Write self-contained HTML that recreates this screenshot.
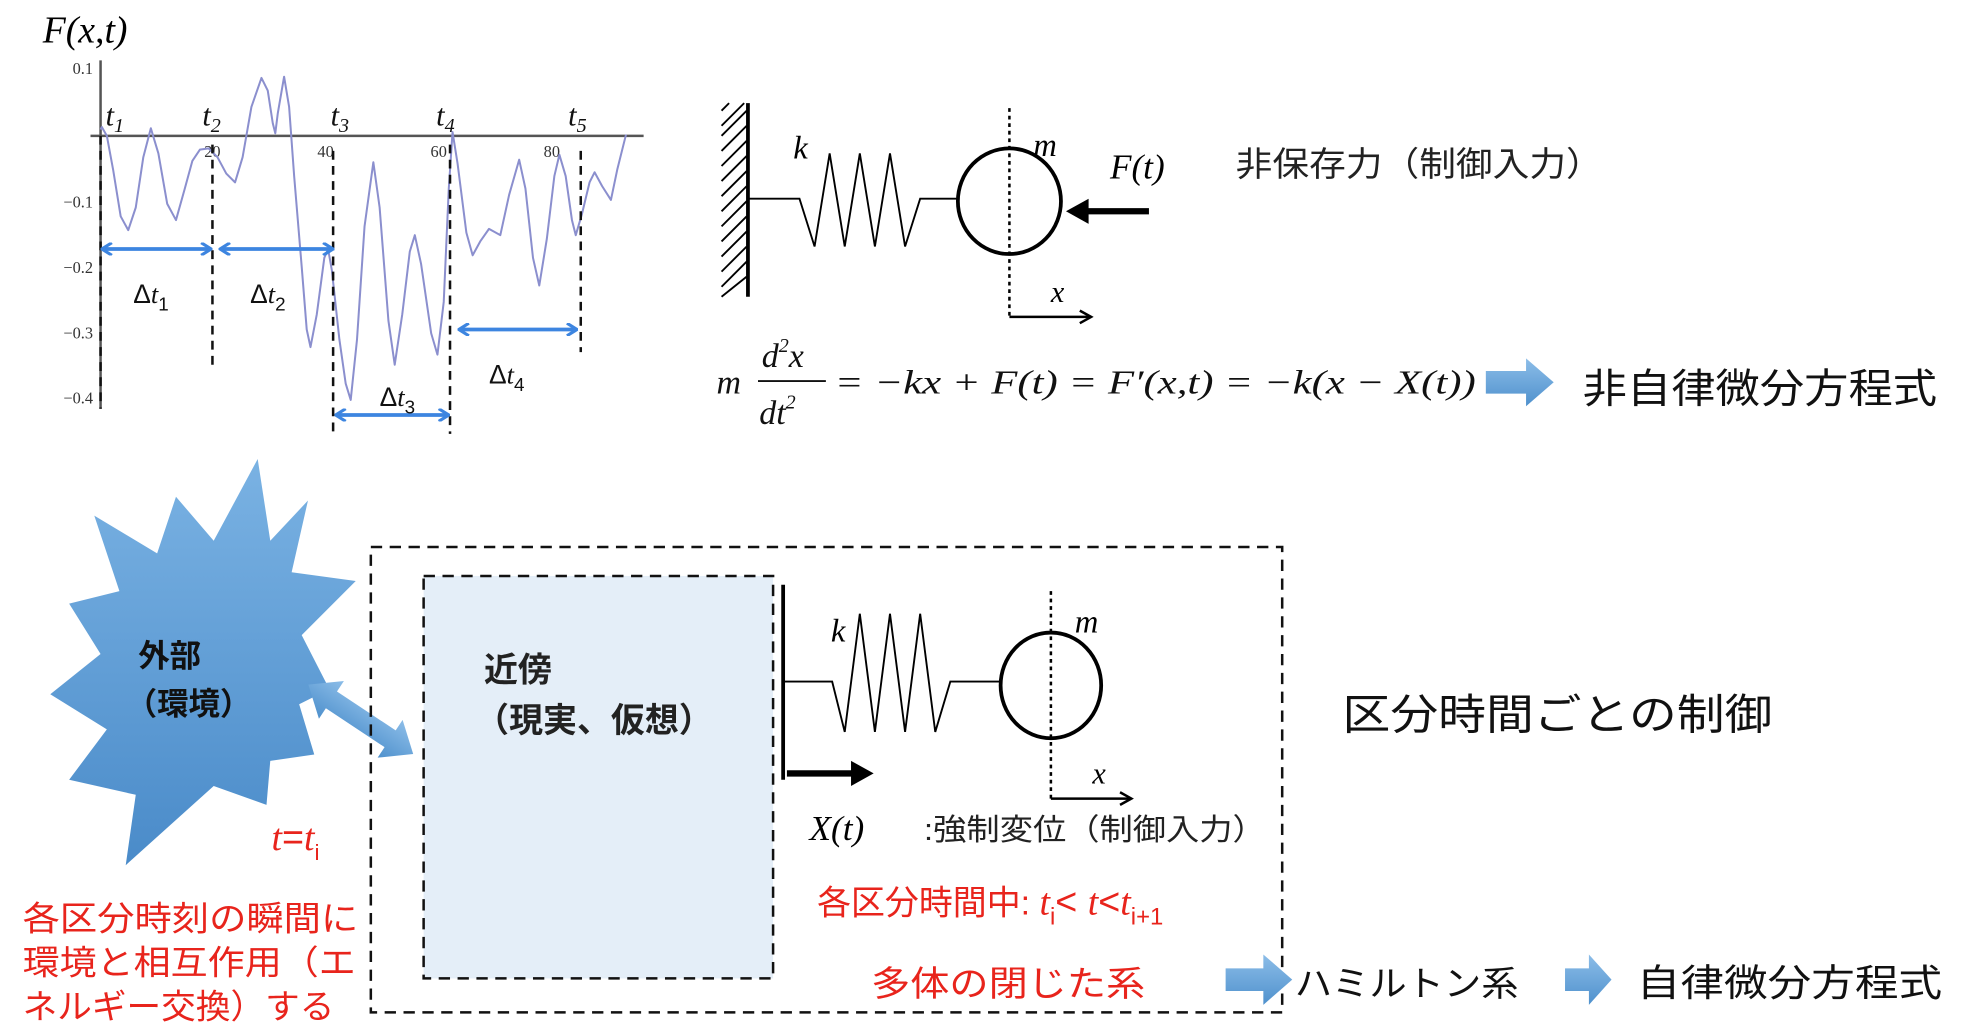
<!DOCTYPE html>
<html><head><meta charset="utf-8"><style>
html,body{margin:0;padding:0;background:#fff;}
svg{display:block;}
.s{font-family:"Liberation Serif",serif;font-style:italic;}
.j{font-family:"Liberation Sans","Noto Sans CJK JP",sans-serif;}
</style></head><body>
<svg width="1961" height="1035" viewBox="0 0 1560 823" preserveAspectRatio="none" xmlns="http://www.w3.org/2000/svg">
<defs>
<linearGradient id="bg" x1="0" y1="0" x2="0" y2="1"><stop offset="0" stop-color="#7ab2e3"/><stop offset="1" stop-color="#4a8bc9"/></linearGradient>
<linearGradient id="ag" x1="0" y1="0" x2="0" y2="1"><stop offset="0" stop-color="#8cbde8"/><stop offset="1" stop-color="#4f91cd"/></linearGradient>
<marker id="ba" markerWidth="10" markerHeight="10" refX="8" refY="5" orient="auto-start-reverse" markerUnits="userSpaceOnUse"><path d="M1,0 L9,5 L1,10" fill="none" stroke="#3d85e0" stroke-width="2.5"/></marker>
<marker id="ka" markerWidth="12" markerHeight="12" refX="10" refY="6" orient="auto" markerUnits="userSpaceOnUse"><path d="M1,1 L10,6 L1,11" fill="none" stroke="#000" stroke-width="2"/></marker>
</defs>

<!-- plot -->
<text x="34" y="34" class="s" font-size="30">F(x,t)</text>
<g stroke="#555" stroke-width="2">
<line x1="80" y1="48" x2="80" y2="325"/>
<line x1="72" y1="108" x2="512" y2="108"/>
</g>
<g font-family="Liberation Serif,serif" font-size="13" fill="#333" text-anchor="end">
<text x="74" y="59">0.1</text><text x="74" y="165">−0.1</text><text x="74" y="217">−0.2</text><text x="74" y="269">−0.3</text><text x="74" y="321">−0.4</text>
</g>
<g font-family="Liberation Serif,serif" font-size="13" fill="#333" text-anchor="middle">
<text x="169" y="125">20</text><text x="259" y="125">40</text><text x="349" y="125">60</text><text x="439" y="125">80</text>
</g>
<polyline fill="none" stroke="#8b8fce" stroke-width="1.6" stroke-linejoin="round" points="80,103 81,101 85,108 90,135 96,172 102,183 108,165 114,125 120,102 126,122 133,162 140,175 147,150 153,128 159,119 166,118 173,125 180,138 187,145 193,125 200,85 208,62 213,72 217,98 219,106 221,90 226,61 230,85 234,140 240,212 244,262 247,276 252,250 258,205 261,198 264,215 270,270 275,305 279,318 284,270 290,180 297,129 302,165 309,255 314,290 320,250 326,200 330,187 335,210 343,265 348,282 353,240 357,150 360,105 364,130 371,185 376,203 382,192 389,182 398,187 405,155 413,127 418,150 424,205 429,227 435,190 441,140 445,123 450,140 455,175 458,187 463,170 469,145 473,137 479,148 486,159 491,135 498,107"/>
<g stroke="#111" stroke-width="2" stroke-dasharray="7,5">
<line x1="169" y1="115" x2="169" y2="292"/>
<line x1="265" y1="120" x2="265" y2="345"/>
<line x1="358" y1="115" x2="358" y2="345"/>
<line x1="462" y1="120" x2="462" y2="280"/>
<line x1="80" y1="108" x2="80" y2="325"/>
</g>
<g stroke="#3d85e0" stroke-width="3" marker-start="url(#ba)" marker-end="url(#ba)">
<line x1="82" y1="198" x2="167" y2="198"/>
<line x1="176" y1="198" x2="264" y2="198"/>
<line x1="268" y1="330" x2="356" y2="330"/>
<line x1="366" y1="262" x2="458" y2="262"/>
</g>
<g class="s" font-size="24" fill="#111">
<text x="84" y="100">t<tspan font-size="16" dy="5">1</tspan></text>
<text x="161" y="100">t<tspan font-size="16" dy="5">2</tspan></text>
<text x="263" y="100">t<tspan font-size="16" dy="5">3</tspan></text>
<text x="347" y="100">t<tspan font-size="16" dy="5">4</tspan></text>
<text x="452" y="100">t<tspan font-size="16" dy="5">5</tspan></text>
</g>
<g font-family="Liberation Sans,sans-serif" font-size="21" fill="#111">
<text x="106" y="241">Δ<tspan class="s">t</tspan><tspan font-size="15" dy="6">1</tspan></text>
<text x="199" y="241">Δ<tspan class="s">t</tspan><tspan font-size="15" dy="6">2</tspan></text>
<text x="302" y="323">Δ<tspan class="s">t</tspan><tspan font-size="15" dy="6">3</tspan></text>
<text x="389" y="305">Δ<tspan class="s">t</tspan><tspan font-size="15" dy="6">4</tspan></text>
</g>

<!-- top mechanics -->
<line x1="595" y1="82" x2="595" y2="236" stroke="#000" stroke-width="3"/>
<g stroke="#000" stroke-width="1.5">
<line x1="594" y1="88" x2="574" y2="108"/><line x1="594" y1="100" x2="574" y2="120"/><line x1="594" y1="112" x2="574" y2="132"/><line x1="594" y1="124" x2="574" y2="144"/><line x1="594" y1="136" x2="574" y2="156"/><line x1="594" y1="148" x2="574" y2="168"/><line x1="594" y1="160" x2="574" y2="180"/><line x1="594" y1="172" x2="574" y2="192"/><line x1="594" y1="184" x2="574" y2="204"/><line x1="594" y1="196" x2="574" y2="216"/><line x1="594" y1="208" x2="574" y2="228"/><line x1="594" y1="220" x2="574" y2="236"/><line x1="580" y1="82" x2="574" y2="88"/><line x1="592" y1="82" x2="574" y2="100"/>
</g>
<polyline fill="none" stroke="#000" stroke-width="1.5" points="595,158 636,158 648,196 660,122 672,196 684,122 696,196 708,122 720,196 732,158 763,158"/>
<ellipse cx="803" cy="160" rx="41" ry="42" fill="none" stroke="#000" stroke-width="3"/>
<line x1="803" y1="86" x2="803" y2="252" stroke="#000" stroke-width="2" stroke-dasharray="3,3"/>
<line x1="803" y1="252" x2="868" y2="252" stroke="#000" stroke-width="2" marker-end="url(#ka)"/>
<text x="836" y="240" class="s" font-size="24">x</text>
<text x="631" y="126" class="s" font-size="26">k</text>
<text x="822" y="124" class="s" font-size="26">m</text>
<line x1="914" y1="168" x2="862" y2="168" stroke="#000" stroke-width="5"/>
<polygon points="848,168 866,158 866,178" fill="#000"/>
<text x="883" y="142" class="s" font-size="28">F(t)</text>
<text x="983" y="140" class="j" font-size="27" fill="#222" textLength="292" lengthAdjust="spacingAndGlyphs">非保存力（制御入力）</text>

<!-- equation -->
<g class="s" font-size="27" fill="#111">
<text x="570" y="313">m</text>
<text x="606" y="292">d<tspan font-size="16" dy="-12">2</tspan><tspan dy="12">x</tspan></text>
<line x1="603" y1="303" x2="657" y2="303" stroke="#111" stroke-width="1.5"/>
<text x="604" y="337">dt<tspan font-size="16" dy="-12">2</tspan></text>
<text x="664" y="313" textLength="510" lengthAdjust="spacingAndGlyphs">= −kx + F(t) = F′(x,t) = −k(x − X(t))</text>
</g>
<polygon points="1182,295 1214,295 1214,285 1236,304 1214,323 1214,313 1182,313" fill="url(#ag)"/>
<text x="1259" y="320" class="j" font-size="32" fill="#111" textLength="282" lengthAdjust="spacingAndGlyphs">非自律微分方程式</text>

<!-- starburst -->
<polygon fill="url(#bg)" points="205,365 215,430 245,398 232,455 283,462 240,505 262,548 238,560 250,600 215,605 212,640 170,625 100,688 108,632 55,620 85,580 40,552 80,520 55,480 95,470 75,410 125,440 140,395 170,430"/>
<text x="110" y="530" class="j" font-size="25" font-weight="bold" fill="#111">外部</text>
<text x="100" y="568" class="j" font-size="25" font-weight="bold" fill="#111">（環境）</text>
<g transform="translate(287,572) rotate(33.5)">
<polygon fill="url(#ag)" points="-50,0 -28,-18 -28,-8 28,-8 28,-18 50,0 28,18 28,8 -28,8 -28,18"/>
</g>

<!-- boxes -->
<rect x="295" y="435" width="725" height="370" fill="none" stroke="#111" stroke-width="2" stroke-dasharray="9,6"/>
<rect x="337" y="458" width="278" height="320" fill="#e4eef8" stroke="#111" stroke-width="2" stroke-dasharray="9,6"/>
<text x="385" y="542" class="j" font-size="27" font-weight="bold" fill="#222">近傍</text>
<text x="378" y="582" class="j" font-size="27" font-weight="bold" fill="#222">（現実、仮想）</text>

<!-- bottom mechanics -->
<line x1="623" y1="465" x2="623" y2="620" stroke="#000" stroke-width="3"/>
<polyline fill="none" stroke="#000" stroke-width="1.5" points="623,542 662,542 672,582 684,488 696,582 708,488 720,582 732,488 744,582 756,542 797,542"/>
<ellipse cx="836" cy="545" rx="40" ry="42" fill="none" stroke="#000" stroke-width="3"/>
<line x1="836" y1="470" x2="836" y2="635" stroke="#000" stroke-width="2" stroke-dasharray="3,3"/>
<line x1="836" y1="635" x2="900" y2="635" stroke="#000" stroke-width="2" marker-end="url(#ka)"/>
<text x="869" y="623" class="s" font-size="24">x</text>
<text x="661" y="510" class="s" font-size="26">k</text>
<text x="855" y="503" class="s" font-size="26">m</text>
<line x1="626" y1="615" x2="680" y2="615" stroke="#000" stroke-width="5"/>
<polygon points="695,615 677,605 677,625" fill="#000"/>
<text x="644" y="668" class="s" font-size="28">X(t)</text>
<text x="735" y="668" class="j" font-size="24" fill="#222" textLength="272" lengthAdjust="spacingAndGlyphs">:強制変位（制御入力）</text>

<!-- red texts -->
<g class="j" fill="#e8241c" font-size="27">
<text x="216" y="676" font-size="30"><tspan class="s">t</tspan>=<tspan class="s">t</tspan><tspan font-size="18" dy="8">i</tspan></text>
<text x="18" y="740" textLength="267" lengthAdjust="spacingAndGlyphs">各区分時刻の瞬間に</text>
<text x="18" y="775" textLength="265" lengthAdjust="spacingAndGlyphs">環境と相互作用（エ</text>
<text x="18" y="810" textLength="248" lengthAdjust="spacingAndGlyphs">ネルギー交換）する</text>
<text x="650" y="727">各区分時間中: <tspan class="s" font-size="30">t</tspan><tspan font-size="19" dy="8">i</tspan><tspan dy="-8" font-size="30">&lt; </tspan><tspan class="s" font-size="30">t</tspan><tspan font-size="30">&lt;</tspan><tspan class="s" font-size="30">t</tspan><tspan font-size="19" dy="8">i+1</tspan></text>
<text x="693" y="792" font-size="28" textLength="218" lengthAdjust="spacingAndGlyphs">多体の閉じた系</text>
</g>

<polygon points="975,770 1005,770 1005,759 1028,779 1005,799 1005,788 975,788" fill="url(#ag)"/>
<text x="1030" y="792" class="j" font-size="28" fill="#111" textLength="178" lengthAdjust="spacingAndGlyphs">ハミルトン系</text>
<polygon points="1245,770 1264,770 1264,759 1282,779 1264,799 1264,788 1245,788" fill="url(#ag)"/>
<text x="1302" y="792" class="j" font-size="30" fill="#111" textLength="243" lengthAdjust="spacingAndGlyphs">自律微分方程式</text>
<text x="1068" y="580" class="j" font-size="34" fill="#111" textLength="342" lengthAdjust="spacingAndGlyphs">区分時間ごとの制御</text>
</svg>
</body></html>
